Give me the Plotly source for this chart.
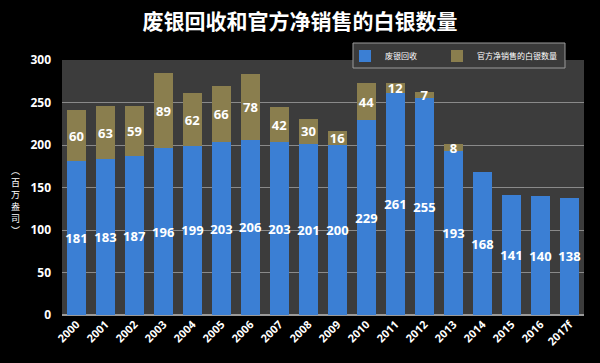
import plotly.graph_objects as go

years = ["2000","2001","2002","2003","2004","2005","2006","2007","2008","2009",
         "2010","2011","2012","2013","2014","2015","2016","2017f"]
scrap = [181,183,187,196,199,203,206,203,201,200,229,261,255,193,168,141,140,138]
official = [60,63,59,89,62,66,78,42,30,16,44,12,7,8,None,None,None,None]
y_title_chars = ["︵", "百", "万", "盎", "司", "︶"]

blue = "#3b7fd4"
olive = "#8a7e4e"
font_cjk = "Noto Sans CJK SC, Open Sans, sans-serif"
num_font = dict(color="white", size=13, family="Open Sans, sans-serif", weight="bold")

fig = go.Figure()
fig.add_trace(go.Bar(
    x=years, y=scrap, name="废银回收", legend="legend",
    marker=dict(color=blue, line=dict(width=0)),
    text=[str(v) for v in scrap], textposition="inside", insidetextanchor="middle",
    textangle=0, textfont=num_font, constraintext="none",
))
fig.add_trace(go.Bar(
    x=years, y=official, name="官方净销售的白银数量", legend="legend2",
    marker=dict(color=olive, line=dict(width=0)),
    text=[str(v) if v is not None else "" for v in official], textposition="inside",
    insidetextanchor="middle", textangle=0, textfont=num_font, constraintext="none",
))

# plot area: 62..584 px wide (522), 60..315 px tall (255)
W, L, T, H = 522, 62, 60, 255
px = lambda x: (x - L) / W
py = lambda y: (T + H - y) / H

annotations = []
char_px = [170, 182, 194, 206, 218, 230]
for ch, yy in zip(y_title_chars, char_px):
    annotations.append(dict(text=ch, xref="paper", yref="paper",
                            x=px(15), y=py(yy),
                            xanchor="center", yanchor="middle", showarrow=False,
                            font=dict(family=font_cjk, size=9, color="white")))

legend_common = dict(orientation="h", yanchor="middle", xanchor="left",
                     bgcolor="rgba(0,0,0,0)", borderwidth=0,
                     font=dict(family=font_cjk, size=8, color="white"),
                     itemwidth=30)

fig.update_layout(
    width=600, height=363,
    barmode="stack", bargap=0.34,
    paper_bgcolor="black", plot_bgcolor="#3c3c3c",
    margin=dict(l=L, r=600 - L - W, t=T, b=363 - T - H, autoexpand=False),
    uniformtext=dict(minsize=8, mode="show"),
    title=dict(text="<b>废银回收和官方净销售的白银数量</b>", x=0.5, xanchor="center",
               y=1 - 22 / 363, yanchor="middle", yref="container",
               font=dict(family=font_cjk, size=21, color="white")),
    showlegend=True,
    legend=dict(x=px(345), y=py(56), **legend_common),
    legend2=dict(x=px(437), y=py(56), **legend_common),
    shapes=[dict(type="rect", xref="paper", yref="paper",
                 x0=px(353), x1=px(565), y0=py(68), y1=py(43),
                 fillcolor="#3a3a3a", line=dict(color="#9a9a9a", width=1),
                 layer="above")],
    xaxis=dict(tickangle=-45, tickfont=dict(family="Open Sans, sans-serif", size=11,
               color="white", weight="bold"), showgrid=False, showline=False,
               ticks="", automargin=False),
    yaxis=dict(range=[0, 300], dtick=50, tickfont=dict(family="Open Sans, sans-serif",
               size=12, color="white", weight="bold"), gridcolor="#8a8a8a",
               gridwidth=1, zeroline=True, zerolinecolor="#9a9a9a", zerolinewidth=2,
               ticks="", ticklabelstandoff=10, automargin=False),
    annotations=annotations,
)

fig.write_html("out.html", config={"displayModeBar": False},
               post_script="document.body.style.margin='0';")
